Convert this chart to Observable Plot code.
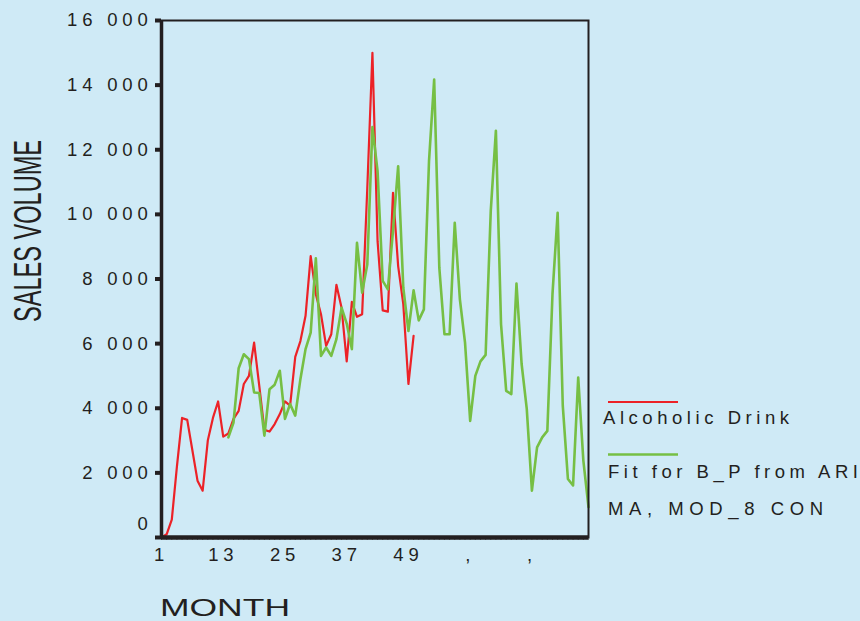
<!DOCTYPE html>
<html><head><meta charset="utf-8">
<script src="https://cdn.jsdelivr.net/npm/d3@7"></script>
<script src="https://cdn.jsdelivr.net/npm/@observablehq/plot@0.6"></script>
<style>
html,body{margin:0;padding:0;background:#cfeaf6;}
#chart{position:relative;width:860px;height:621px;overflow:hidden;}
#chart svg{display:block;}
</style></head><body><div id="chart"></div>
<script>
// Alcoholic Drink, months 1..50
const redStartMonth = 1;
const redValues = [0,100,550,2200,3700,3640,2700,1760,1450,3000,3700,4210,3120,3220,3670,3920,4750,5000,6030,4700,3330,3280,3510,3820,4210,4080,5590,6080,6860,8710,7530,6910,5930,6290,7820,7110,5450,7290,6830,6910,10800,15000,9170,7030,6990,10670,8400,7220,4750,6240];
// Fit for B_P from ARIMA, MOD_8 CON, months 14..84
const greenStartMonth = 14;
const greenValues = [3100,3560,5240,5670,5520,4490,4470,3150,4590,4730,5160,3670,4130,3770,4900,5830,6340,8640,5620,5880,5620,6140,7110,6620,5830,9120,7580,8450,12700,11340,7940,7680,9500,11490,7730,6390,7650,6720,7060,11650,14170,8350,6290,6290,9740,7370,6030,3610,5000,5450,5650,10100,12590,6600,4540,4440,7860,5370,3980,1450,2790,3100,3300,7530,10050,4080,1810,1610,4950,2380,940];
const monthDomain = [1, 84];
const xTicks = [1,13,25,37,49,61,73];
const xTickLabels = ["1","13","25","37","49",",",","];
const yTicks = [0,2000,4000,6000,8000,10000,12000,14000,16000];
const seriesNames = ["Alcoholic Drink", "Fit for B_P from ARI", "MA, MOD_8 CON"];
const seriesColors = ["#ec2227", "#76bf44"];
const xTitle = "MONTH";
const yTitle = "SALES VOLUME";

const red = redValues.map((v,i)=>({month: redStartMonth+i, value: v}));
const green = greenValues.map((v,i)=>({month: greenStartMonth+i, value: v}));
const allMonths = d3.range(monthDomain[0], monthDomain[1]+1);
const fmt = d3.formatLocale({thousands:" ", grouping:[3], decimal:".", currency:["",""]}).format(",");
const ink = "#231f20";
const labelOpts = {label: null, tickSize: 0, tickPadding: 9, fontSize: 18.5, fill: ink, tickFormat: d => fmt(d)};

const plot = Plot.plot({
  width: 860, height: 621,
  marginLeft: 161, marginRight: 272, marginTop: 20, marginBottom: 84,
  style: {background: "transparent", fontFamily: "'Liberation Sans', Arial, sans-serif", fontSize: "18.5px", color: ink, letterSpacing: "4.8px", overflow: "visible"},
  x: {domain: monthDomain, axis: null},
  y: {domain: [0,16000], axis: null},
  marks: [
    Plot.line(red, {x:"month", y:"value", stroke: seriesColors[0], strokeWidth: 2.2}),
    Plot.line(green, {x:"month", y:"value", stroke: seriesColors[1], strokeWidth: 2.6}),
    Plot.axisX({ticks: allMonths, tickSize: 3, text: null, label: null, stroke: "#777", strokeWidth: 1}),
    Plot.axisX({ticks: xTicks, tickFormat: d => xTickLabels[xTicks.indexOf(d)], label: null, tickSize: 0, tickPadding: 10, fontSize: 18.5, fill: ink}),
    Plot.axisY({ticks: yTicks, text: null, label: null, tickSize: 6, strokeWidth: 4, stroke: ink}),
    Plot.axisY({...labelOpts, ticks: yTicks.filter(d => d !== 0)}),
    Plot.axisY({...labelOpts, ticks: yTicks.filter(d => d === 0), dy: -13}),
    Plot.frame({stroke: ink, strokeWidth: 2}),
    Plot.ruleX([monthDomain[0]], {stroke: ink, strokeWidth: 3.5}),
    Plot.ruleY([0], {stroke: ink, strokeWidth: 4.5})
  ]
});
document.getElementById("chart").appendChild(plot);

const svg = d3.select(plot);
const g = svg.append("g").attr("fill", ink).attr("text-anchor", "start").style("letter-spacing", "0px").attr("font-family", "'Liberation Sans', Arial, sans-serif");
g.append("text").text(yTitle)
  .attr("transform", "translate(41,231) rotate(-90)")
  .attr("text-anchor", "middle").attr("font-size", 38)
  .attr("textLength", 182).attr("lengthAdjust", "spacingAndGlyphs");
g.append("text").text(xTitle)
  .attr("x", 160).attr("y", 616).attr("font-size", 24)
  .attr("textLength", 130).attr("lengthAdjust", "spacingAndGlyphs");
// legend
g.append("line").attr("x1",608).attr("x2",678).attr("y1",402).attr("y2",402).attr("stroke",seriesColors[0]).attr("stroke-width",2.2);
g.append("line").attr("x1",608).attr("x2",678).attr("y1",454.5).attr("y2",454.5).attr("stroke",seriesColors[1]).attr("stroke-width",2.6);
g.append("text").text(seriesNames[0]).attr("x",603).attr("y",424).attr("font-size",18.5).attr("textLength",186).attr("lengthAdjust","spacing");
g.append("text").text(seriesNames[1]).attr("x",608).attr("y",478).attr("font-size",18.5).attr("textLength",250).attr("lengthAdjust","spacing");
g.append("text").text(seriesNames[2]).attr("x",608).attr("y",515).attr("font-size",18.5).attr("textLength",215).attr("lengthAdjust","spacing");
</script></body></html>
